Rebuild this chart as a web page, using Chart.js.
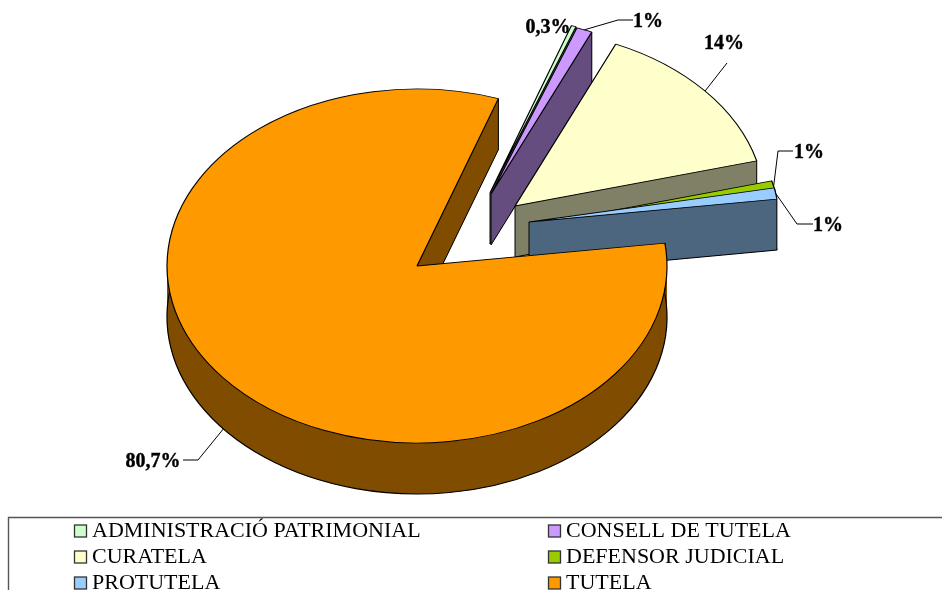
<!DOCTYPE html>
<html>
<head>
<meta charset="utf-8">
<title>Pie chart</title>
<script src="https://cdn.jsdelivr.net/npm/chart.js@4"></script>
<style>
  html, body { margin: 0; padding: 0; background: #fff; overflow: hidden; }
  canvas { display: block; }
</style>
</head>
<body>
<canvas id="pieChart" width="942" height="590"></canvas>
<script>
// Data
const categories = ['ADMINISTRACIÓ PATRIMONIAL', 'CONSELL DE TUTELA', 'CURATELA', 'DEFENSOR JUDICIAL', 'PROTUTELA', 'TUTELA'];
const values = [0.3, 1, 14, 1, 1, 80.7];
const valueLabels = ['0,3%', '1%', '14%', '1%', '1%', '80,7%'];

// Colours
const topColors = ['#CCFFCC', '#CC99FF', '#FFFFCC', '#99CC00', '#99CCFF', '#FF9900'];
const wallColors = ['#668066', '#664D80', '#808066', '#4D6600', '#4D6680', '#804D00'];

// Fake 3D look
const tilt = 0.708;
const depth = 51;
const explodeX = [73, 74, 98, 113, 112, 0];
const explodeY = [-73, -72, -60, -40, -44, 0];

// Label text position and the bends of its leader line (the line starts on the slice)
const labelPos = [[548, 28], [648, 22], [724, 44], [809, 153], [828, 226], [153, 462]];
const leaderBends = [
  null,
  [[618, 20], [633, 20]],
  [[727, 63]],
  [[778, 151], [793, 151]],
  [[797, 224], [813, 224]],
  [[198, 460], [183, 460]]
];

function paintArc(ctx, arc, dx, dy, overrides) {
  const own = arc.options;
  ctx.save();
  ctx.translate(arc.x + dx, arc.y + dy);
  ctx.scale(1, tilt);
  ctx.translate(-arc.x, -arc.y);
  arc.options = Object.assign({}, own, overrides);
  arc.draw(ctx);
  arc.options = own;
  ctx.restore();
}

function rimPoint(arc, angle, dx, dy) {
  return [
    arc.x + dx + Math.cos(angle) * arc.outerRadius,
    arc.y + dy + Math.sin(angle) * arc.outerRadius * tilt
  ];
}

function strokeLine(ctx, x1, y1, x2, y2) {
  ctx.beginPath();
  ctx.moveTo(x1, y1);
  ctx.lineTo(x2, y2);
  ctx.strokeStyle = '#000';
  ctx.lineWidth = 1;
  ctx.stroke();
}

// Draws each slice as a stack of darker copies, then the top face
const pie3d = {
  id: 'pie3d',
  beforeDatasetDraw(chart) {
    const ctx = chart.ctx;
    chart.getDatasetMeta(0).data.forEach((arc, i) => {
      const dx = explodeX[i];
      const dy = explodeY[i];
      const tipX = arc.x + dx;
      const tipY = arc.y + dy;
      const a = rimPoint(arc, arc.startAngle, dx, dy);
      const b = rimPoint(arc, arc.endAngle, dx, dy);

      for (let d = depth; d > 0; d--) {
        paintArc(ctx, arc, dx, dy + d, { backgroundColor: wallColors[i], borderWidth: 0 });
      }

      // rim outline goes first so the cut face hides it
      ctx.beginPath();
      ctx.ellipse(tipX, tipY + depth, arc.outerRadius, arc.outerRadius * tilt, 0, arc.startAngle, arc.endAngle);
      ctx.strokeStyle = '#000';
      ctx.lineWidth = 1.2;
      ctx.stroke();
      strokeLine(ctx, a[0], a[1], a[0], a[1] + depth);

      // flat cut face, the stack goes patchy near the tip of thin slices
      ctx.beginPath();
      ctx.moveTo(tipX, tipY);
      ctx.lineTo(b[0], b[1]);
      ctx.lineTo(b[0], b[1] + depth);
      ctx.lineTo(tipX, tipY + depth);
      ctx.closePath();
      ctx.fillStyle = wallColors[i];
      ctx.fill();
      strokeLine(ctx, tipX, tipY + depth, b[0], b[1] + depth);
      strokeLine(ctx, tipX, tipY, tipX, tipY + depth);
      strokeLine(ctx, b[0], b[1], b[0], b[1] + depth);

      paintArc(ctx, arc, dx, dy, { backgroundColor: topColors[i], borderColor: '#000', borderWidth: 1.2 });
    });
    return false;
  },
  afterDraw(chart) {
    drawLabels(chart);
    drawLegend(chart);
  }
};

function drawLabels(chart) {
  const ctx = chart.ctx;
  ctx.save();
  chart.getDatasetMeta(0).data.forEach((arc, i) => {
    if (leaderBends[i]) {
      const mid = (arc.startAngle + arc.endAngle) / 2;
      // the big slice has its line on the wall, not on the top face
      const start = rimPoint(arc, mid, explodeX[i], explodeY[i] + (i === 5 ? depth : 0));
      ctx.beginPath();
      ctx.moveTo(start[0], start[1]);
      leaderBends[i].forEach(p => ctx.lineTo(p[0], p[1]));
      ctx.strokeStyle = '#000';
      ctx.lineWidth = 1;
      ctx.stroke();
    }
    ctx.font = 'bold 20px "Liberation Serif"';
    ctx.fillStyle = '#000';
    ctx.textAlign = 'center';
    ctx.textBaseline = 'middle';
    ctx.fillText(valueLabels[i], labelPos[i][0], labelPos[i][1]);
    ctx.strokeStyle = '#000';
    ctx.lineWidth = 0.4;
    ctx.strokeText(valueLabels[i], labelPos[i][0], labelPos[i][1]);
  });
  ctx.restore();
}

function drawLegend(chart) {
  const ctx = chart.ctx;
  ctx.save();
  // legend frame runs off the right and bottom of the page
  ctx.beginPath();
  ctx.moveTo(8.5, 590);
  ctx.lineTo(8.5, 517.5);
  ctx.lineTo(942, 517.5);
  ctx.strokeStyle = '#555';
  ctx.lineWidth = 1.4;
  ctx.stroke();

  ctx.font = '22px "Liberation Serif"';
  ctx.textAlign = 'left';
  ctx.textBaseline = 'middle';
  categories.forEach((name, i) => {
    const x = i % 2 === 0 ? 74 : 548;
    const y = 531 + Math.floor(i / 2) * 26;
    ctx.fillStyle = topColors[i];
    ctx.fillRect(x + 0.5, y - 6, 12, 12);
    ctx.strokeStyle = '#333';
    ctx.lineWidth = 1.3;
    ctx.strokeRect(x + 0.5, y - 6, 12, 12);
    ctx.fillStyle = '#000';
    ctx.fillText(name, x + 18, y);
  });
  ctx.restore();
}

const pieChart = new Chart(document.getElementById('pieChart').getContext('2d'), {
  type: 'pie',
  data: {
    labels: categories,
    datasets: [{
      data: values,
      backgroundColor: topColors,
      borderColor: '#000',
      borderWidth: 1,
      radius: 250
    }]
  },
  options: {
    responsive: false,
    animation: false,
    rotation: 19,
    layout: { padding: { left: 0, right: 108, top: 0, bottom: 58 } },
    plugins: {
      legend: { display: false },
      title: { display: false },
      tooltip: { enabled: false }
    }
  },
  plugins: [pie3d]
});
</script>
</body>
</html>
